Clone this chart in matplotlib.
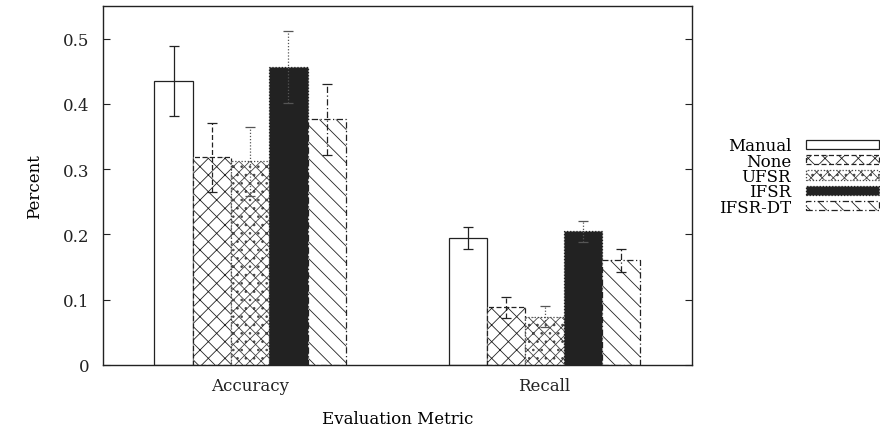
import matplotlib
matplotlib.use("Agg")
import matplotlib.pyplot as plt
import numpy as np

plt.rcParams['font.family'] = ['DejaVu Serif']
plt.rcParams['hatch.linewidth'] = 0.6

metrics = ["Accuracy", "Recall"]
series = ["Manual", "None", "UFSR", "IFSR", "IFSR-DT"]
values = {
    "Manual":  [0.435, 0.194],
    "None":    [0.318, 0.088],
    "UFSR":    [0.312, 0.074],
    "IFSR":    [0.456, 0.205],
    "IFSR-DT": [0.376, 0.160],
}
errors = {
    "Manual":  [0.054, 0.017],
    "None":    [0.053, 0.016],
    "UFSR":    [0.053, 0.016],
    "IFSR":    [0.055, 0.016],
    "IFSR-DT": [0.054, 0.017],
}
yticks = [0, 0.1, 0.2, 0.3, 0.4, 0.5]

styles = {
    "Manual":  dict(face="white", hatch=None, ls="-", ecol="#222222"),
    "None":    dict(face="white", hatch="xx", ls=(0, (4, 2)), ecol="#222222"),
    "UFSR":    dict(face="white", hatch="xxx..", ls=(0, (1, 1.5)), ecol="#555555"),
    "IFSR":    dict(face="#222222", hatch=None, ls=(0, (1, 1.5)), ecol="#555555"),
    "IFSR-DT": dict(face="white", hatch="\\\\", ls=(0, (5, 2, 1, 2)), ecol="#222222"),
}

fig = plt.figure(figsize=(8.8, 4.31), dpi=100)
ax = fig.add_axes([0.117, 0.151, 0.669, 0.833])

x = np.arange(len(metrics))
w = 0.13
n = len(series)
for i, s in enumerate(series):
    st = styles[s]
    pos = x + (i - (n - 1) / 2) * w
    ax.bar(pos, values[s], w, color=st["face"],
           edgecolor="#222222" if s != "UFSR" else "#444444",
           hatch=st["hatch"], linewidth=0.9, linestyle=st["ls"], label=s, zorder=2)
    eb = ax.errorbar(pos, values[s], yerr=errors[s], fmt="none", ecolor=st["ecol"],
                     elinewidth=0.9, capsize=3.5, capthick=0.9, zorder=3)
    for lc in eb[2]:
        lc.set_linestyle(st["ls"])

ax.set_xlim(-0.5, 1.5)
ax.set_ylim(0, 0.55)
ax.set_yticks(yticks)
ax.set_yticklabels([("%g" % v) for v in yticks])
ax.set_xticks(x)
ax.set_xticklabels(metrics)
ax.tick_params(axis="both", direction="in", labelsize=12, colors="#222222",
               right=True, top=False, length=5, pad=10)
ax.tick_params(axis="x", length=0, pad=9)
for sp in ax.spines.values():
    sp.set_linewidth(1.0)
    sp.set_color("#222222")

ax.set_ylabel("Percent", fontsize=12, labelpad=14)
ax.set_xlabel("Evaluation Metric", fontsize=12, labelpad=11)

leg = ax.legend(loc="center left", bbox_to_anchor=(1.035, 0.525), frameon=False,
                markerfirst=False, fontsize=12, handlelength=4.4, handleheight=0.5,
                labelspacing=-0.1, handletextpad=0.9, borderaxespad=0)
for t in leg.get_texts():
    t.set_ha("right")
leg._legend_box.align = "right"

fig.savefig("out.png", dpi=100)
